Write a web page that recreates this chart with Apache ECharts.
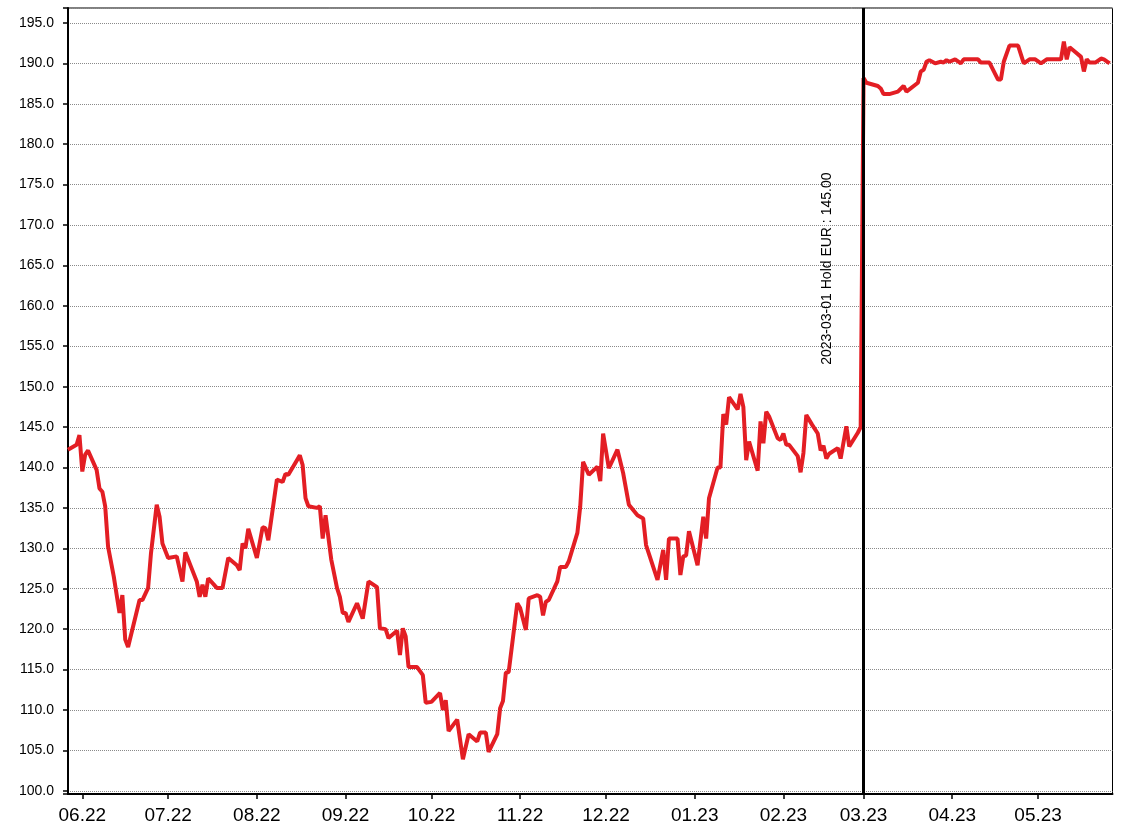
<!DOCTYPE html>
<html>
<head>
<meta charset="utf-8">
<script src="https://cdn.jsdelivr.net/npm/echarts@6/dist/echarts.min.js"></script>
<style>
html,body{margin:0;padding:0;background:#fff;}
#chart{width:1128px;height:836px;}
</style>
</head>
<body>
<div id="chart"></div>
<script>
var dates = [
'2022-05-27','2022-05-30','2022-05-31','2022-06-01','2022-06-02','2022-06-03','2022-06-06','2022-06-07','2022-06-08','2022-06-09',
'2022-06-10','2022-06-12','2022-06-14','2022-06-15','2022-06-16','2022-06-17','2022-06-21','2022-06-22','2022-06-24','2022-06-25',
'2022-06-27','2022-06-28','2022-06-29','2022-07-01','2022-07-04','2022-07-06','2022-07-07','2022-07-09','2022-07-11','2022-07-12',
'2022-07-13','2022-07-14','2022-07-15','2022-07-18','2022-07-20','2022-07-22','2022-07-25','2022-07-26','2022-07-27','2022-07-28',
'2022-07-29','2022-08-01','2022-08-03','2022-08-04','2022-08-05','2022-08-08','2022-08-10','2022-08-11','2022-08-12','2022-08-15',
'2022-08-16','2022-08-17','2022-08-18','2022-08-19','2022-08-22','2022-08-23','2022-08-24','2022-08-25','2022-08-27','2022-08-29',
'2022-08-30','2022-08-31','2022-09-01','2022-09-02','2022-09-05','2022-09-07','2022-09-09','2022-09-12','2022-09-13','2022-09-15',
'2022-09-16','2022-09-19','2022-09-20','2022-09-21','2022-09-22','2022-09-23','2022-09-26','2022-09-28','2022-09-29','2022-10-01',
'2022-10-04','2022-10-05','2022-10-06','2022-10-07','2022-10-10','2022-10-12','2022-10-14','2022-10-17','2022-10-18','2022-10-20',
'2022-10-21','2022-10-24','2022-10-25','2022-10-26','2022-10-27','2022-10-28','2022-10-31','2022-11-01','2022-11-03','2022-11-04',
'2022-11-07','2022-11-08','2022-11-09','2022-11-10','2022-11-11','2022-11-14','2022-11-15','2022-11-17','2022-11-18','2022-11-21',
'2022-11-22','2022-11-23','2022-11-25','2022-11-28','2022-11-29','2022-11-30','2022-12-02','2022-12-05','2022-12-07','2022-12-09',
'2022-12-12','2022-12-14','2022-12-15','2022-12-19','2022-12-21','2022-12-22','2022-12-23','2022-12-26','2022-12-27','2022-12-28',
'2022-12-29','2022-12-30','2023-01-02','2023-01-04','2023-01-05','2023-01-06','2023-01-09','2023-01-10','2023-01-11','2023-01-12',
'2023-01-13','2023-01-16','2023-01-17','2023-01-18','2023-01-19','2023-01-20','2023-01-23','2023-01-24','2023-01-25','2023-01-26',
'2023-01-27','2023-01-30','2023-01-31','2023-02-01','2023-02-02','2023-02-03','2023-02-06','2023-02-07','2023-02-08','2023-02-09',
'2023-02-11','2023-02-13','2023-02-14','2023-02-15','2023-02-16','2023-02-17','2023-02-20','2023-02-21','2023-02-23','2023-02-24',
'2023-02-27','2023-02-28','2023-03-01','2023-03-02','2023-03-06','2023-03-07','2023-03-08','2023-03-10','2023-03-13','2023-03-15',
'2023-03-16','2023-03-20','2023-03-21','2023-03-22','2023-03-23','2023-03-24','2023-03-26','2023-03-28','2023-03-29','2023-03-30',
'2023-03-31','2023-04-02','2023-04-04','2023-04-05','2023-04-10','2023-04-11','2023-04-14','2023-04-17','2023-04-18','2023-04-19',
'2023-04-21','2023-04-24','2023-04-26','2023-04-28','2023-04-30','2023-05-02','2023-05-04','2023-05-09','2023-05-10','2023-05-11',
'2023-05-12','2023-05-14','2023-05-16','2023-05-17','2023-05-18','2023-05-19','2023-05-21','2023-05-23','2023-05-24','2023-05-26'
];
var prices = [
142.2,142.8,144.0,139.5,141.6,142.1,139.7,137.4,137.0,135.2,
130.2,126.5,122.0,124.2,118.7,117.8,123.6,123.6,125.1,129.4,
135.4,133.9,130.6,128.8,129.0,125.9,129.5,127.7,125.9,124.0,
125.5,124.0,126.3,125.1,125.1,128.8,127.9,127.3,130.6,130.0,
132.4,128.8,132.6,132.5,131.0,138.5,138.2,139.2,139.1,140.9,
141.5,140.3,136.2,135.2,135.0,135.2,131.2,134.1,128.6,125.1,
124.0,122.0,122.0,120.9,123.2,121.3,125.9,125.2,120.1,120.0,
118.9,119.8,116.8,120.1,119.1,115.3,115.3,114.3,110.9,111.0,
112.1,110.0,111.2,107.4,108.8,103.9,107.0,106.1,107.2,107.2,
104.8,107.0,110.2,111.1,114.6,114.7,123.2,122.6,119.9,123.8,
124.2,124.0,121.7,123.4,123.6,125.9,127.7,127.7,128.4,131.9,
135.2,140.7,139.1,140.1,138.3,144.2,139.9,142.2,139.3,135.4,
134.1,133.7,130.4,126.1,129.8,126.1,131.2,131.2,126.7,129.0,
129.1,132.1,127.9,133.9,131.2,136.2,140.0,140.0,146.6,145.3,
148.7,147.2,149.1,147.5,140.9,143.2,139.6,145.7,143.0,146.9,
146.3,143.6,143.4,144.2,142.8,142.8,141.4,139.4,141.8,146.5,
145.3,144.2,142.1,142.7,141.1,141.7,142.4,141.1,145.1,142.6,
144.3,145.0,188.2,187.6,187.2,186.9,186.2,186.2,186.5,187.2,
186.5,187.6,189.0,189.2,190.2,190.4,190.0,190.2,190.1,190.4,
190.2,190.5,190.0,190.5,190.5,190.1,190.1,188.0,188.0,190.2,
192.2,192.2,190.0,190.5,190.5,190.0,190.5,190.5,192.7,190.5,
192.0,191.4,190.8,189.0,190.5,190.1,190.1,190.6,190.5,190.0
];
var xRange = ['2022-05-27', '2023-05-27'];
var yRange = [99.6, 196.85];
var yStep = 5;
var holdDate = '2023-03-01';
var holdText = '2023-03-01 Hold EUR : 145.00';
var holdLabelAt = 164.6;

var seriesData = dates.map(function (d, i) { return [d, prices[i]]; });

var chart = echarts.init(document.getElementById('chart'), null, {renderer: 'canvas'});
chart.setOption({
  backgroundColor: '#ffffff',
  animation: false,
  grid: {
    left: 68, right: 15.5, top: 8, bottom: 42,
    show: true, borderColor: '#000', borderWidth: 1, backgroundColor: 'transparent',
    outerBoundsMode: 'none'
  },
  xAxis: {
    type: 'time',
    min: xRange[0], max: xRange[1],
    splitNumber: 12,
    minInterval: 28 * 86400000,
    maxInterval: 31 * 86400000,
    axisLine: {show: true, onZero: false, lineStyle: {color: '#000', width: 2}},
    axisTick: {show: true, length: 5, lineStyle: {color: '#000', width: 1.5}},
    splitLine: {show: false},
    axisLabel: {
      color: '#000', fontSize: 19, fontFamily: 'Liberation Sans, Arial, sans-serif', margin: 12,
      hideOverlap: false,
      formatter: function (v) {
        var d = new Date(v);
        var m = d.getMonth() + 1;
        var y = d.getFullYear() % 100;
        return (m < 10 ? '0' : '') + m + '.' + (y < 10 ? '0' : '') + y;
      }
    }
  },
  yAxis: {
    type: 'value',
    min: yRange[0], max: yRange[1],
    splitNumber: 20, minInterval: yStep, maxInterval: yStep,
    axisLine: {show: true, lineStyle: {color: '#000', width: 2}},
    axisTick: {show: true, length: 5, lineStyle: {color: '#000', width: 1.5}},
    splitLine: {show: true, lineStyle: {color: '#8a8a8a', width: 1, type: [1, 1]}},
    axisLabel: {
      color: '#000', fontSize: 14, fontFamily: 'Liberation Sans, Arial, sans-serif', margin: 14,
      formatter: function (v) {
        var r = Math.round(v / yStep);
        return Math.abs(v / yStep - r) < 1e-6 ? v.toFixed(1) : '';
      }
    }
  },
  series: [{
    type: 'line',
    data: seriesData,
    showSymbol: false,
    symbol: 'none',
    lineStyle: {color: '#e31e24', width: 4},
    markLine: {
      silent: true,
      symbol: ['none', 'none'],
      label: {show: false},
      lineStyle: {color: '#000', width: 3, type: 'solid'},
      data: [{xAxis: holdDate}]
    },
    markPoint: {
      silent: true,
      symbol: 'circle',
      symbolSize: 0,
      data: [{coord: [holdDate, holdLabelAt], value: holdText}],
      label: {
        show: true, position: 'inside', rotate: 90, offset: [0, -36],
        formatter: holdText, color: '#000', fontSize: 14,
        fontFamily: 'Liberation Sans, Arial, sans-serif'
      }
    }
  }]
});
</script>
</body>
</html>
